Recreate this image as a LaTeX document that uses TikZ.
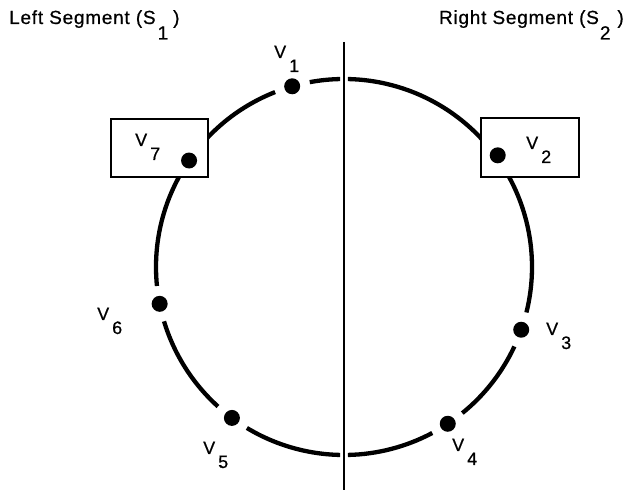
\documentclass[tikz,border=0pt]{standalone}
\usepackage{fontspec}
\setmainfont{Liberation Sans}[FakeBold=0.6]
\newfontfamily\headfont[LetterSpace=4,FakeBold=0.6]{Liberation Sans}
\usepackage{tikz}
\usetikzlibrary{positioning,calc}
\definecolor{rgink}{RGB}{0,0,0}
\definecolor{rgpaper}{RGB}{255,255,255}
\newcommand{\vname}[1]{V\kern3pt\raisebox{-14pt}{#1}}
\tikzset{
  ring/.style={draw=rgink, line width=4.3pt},
  divider/.style={draw=rgink, line width=1.5pt},
  vert/.style={circle, fill=rgink, inner sep=0pt, minimum size=16pt},
  segbox/.style={draw=rgink, fill=rgpaper, line width=1.6pt, inner sep=0pt},
  vlab/.style={anchor=base west, inner sep=0pt, font=\fontsize{18}{18}\selectfont},
  head/.style={anchor=base west, inner sep=0pt, font=\fontsize{19}{19}\headfont}
}

\begin{document}
\begin{tikzpicture}[x=1pt,y=1pt]
  \useasboundingbox (0,0) rectangle (630,492);
  % headings
  \node[head] (lhead) at (9,468) {Left Segment (S\kern2pt\raisebox{-15.5pt}{1}\kern5pt)};
  \node[head, anchor=base east] (rhead) at (624,468) {Right Segment (S\kern1pt\raisebox{-15.5pt}{2}\kern7pt)};
  % ring, broken at each vertex and at the divider
  \coordinate (c) at (344,225);
  \foreach \a/\b in {-88.8/-62, -51/-25, -14/88.8, 91.2/100.5,
                     111.5/185.8, 196.8/227.9, 238.9/268.8}
    \draw[ring] ($(c)+(\a:188)$) arc[start angle=\a, end angle=\b, radius=188];
  % divider between S1 and S2
  \coordinate (dtop) at (344,450);
  \coordinate (dbot) at (344,2);
  \draw[divider] (dtop) -- (dbot);
  % boxed vertices
  \node[segbox, minimum width=97pt, minimum height=58pt] (box7) at (159.5,344) {};
  \node[segbox, minimum width=98pt, minimum height=59pt] (box2) at (530,344.5) {};
  % vertices
  \node[vert] (v1) at ($(c)+(106:188)$) {};
  \node[vert] (v2) at ($(c)+(36:190)$) {};
  \node[vert] (v3) at ($(c)+(-19.5:188)$) {};
  \node[vert] (v4) at ($(c)+(-56.5:188)$) {};
  \node[vert] (v5) at ($(c)+(-126.6:188)$) {};
  \node[vert] (v6) at ($(c)+(191.3:188)$) {};
  \node[vert] (v7) at ($(c)+(145.5:188)$) {};
  % labels
  \node[vlab] (l1) at (274,434) {\vname{1}};
  \node[vlab] (l2) at (526,343) {\vname{2}};
  \node[vlab] (l3) at (546,157) {\vname{3}};
  \node[vlab] (l4) at (452,41) {\vname{4}};
  \node[vlab] (l5) at (203,38) {\vname{5}};
  \node[vlab] (l6) at (97,172) {\vname{6}};
  \node[vlab] (l7) at (135,346) {\vname{7}};
\end{tikzpicture}
\end{document}
